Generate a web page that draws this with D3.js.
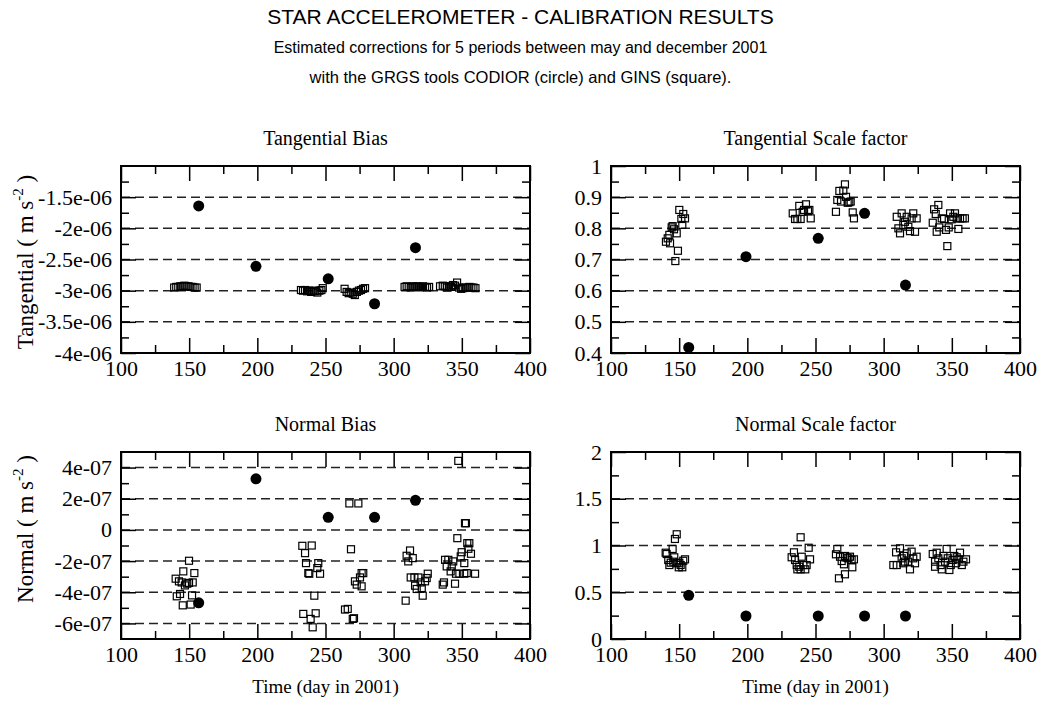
<!DOCTYPE html>
<html><head><meta charset="utf-8">
<script src="https://cdn.jsdelivr.net/npm/d3@7"></script>
<style>
body{margin:0;background:#fff}
svg{display:block}
.serif{font-family:"Liberation Serif","Times New Roman",serif}
.sans{font-family:"Liberation Sans",Arial,sans-serif}
</style></head><body>
<svg id="c" width="1041" height="719"></svg>
<script>
// ---- data ----
const circleDays = [157, 199, 252, 286, 316];

// Tangential bias (m s^-2)
const tbCircle = [-1.64e-6, -2.61e-6, -2.81e-6, -3.21e-6, -2.31e-6];
const tbSqDay = [139,140.5,142,143.5,145,146.5,148,149.5,151,152.5,154,155.5,
  232,233.5,235,236.5,238,239.5,241,242.5,244,245.5,247,248,
  264,265.5,267,268.5,270,271.5,273,274.5,276,277.5,279,
  308,309.5,311,312.5,314,315.5,317,318.5,320,321.5,323,324.5,326,
  334,336,337.5,339,340.5,342,343.5,345,346.5,348,349.5,351,352.5,354,355.5,357,358.5,360];
const tbSqVal = [-2.95e-6,-2.94e-6,-2.94e-6,-2.93e-6,-2.93e-6,-2.92e-6,-2.93e-6,-2.93e-6,-2.94e-6,-2.94e-6,-2.95e-6,-2.95e-6,
  -2.99e-6,-3.0e-6,-2.99e-6,-3.01e-6,-3.0e-6,-3.02e-6,-3.0e-6,-3.01e-6,-3.03e-6,-3.0e-6,-2.99e-6,-2.96e-6,
  -2.97e-6,-3.02e-6,-3.04e-6,-3.03e-6,-3.05e-6,-3.07e-6,-3.02e-6,-3.0e-6,-2.99e-6,-2.97e-6,-2.96e-6,
  -2.94e-6,-2.93e-6,-2.94e-6,-2.95e-6,-2.93e-6,-2.94e-6,-2.93e-6,-2.94e-6,-2.94e-6,-2.93e-6,-2.94e-6,-2.95e-6,-2.94e-6,
  -2.93e-6,-2.92e-6,-2.93e-6,-2.95e-6,-2.93e-6,-2.94e-6,-2.91e-6,-2.92e-6,-2.87e-6,-2.95e-6,-2.97e-6,-2.96e-6,-2.95e-6,-2.95e-6,-2.94e-6,-2.95e-6,-2.95e-6,-2.96e-6];

// Tangential scale factor
const tsCircle = [0.418, 0.709, 0.768, 0.848, 0.618];
const tsSqDay = [140.3,141.6,142.8,143.3,144.5,145.2,146.2,147.2,148.2,149.1,150.1,151.6,152.3,153,154.3,
  233.3,235,236.7,238.1,239.1,240.6,241.6,243,244.5,245.5,246.5,
  265,266,267.5,268.7,270.4,271.6,272.4,273.6,274.8,275.8,277.3,278.2,
  309.6,310.8,312,313.2,314.4,315.6,316.9,318.1,319.3,320.5,321.7,323,324.2,
  336,337,338.2,338.9,340.1,340.8,342.6,344.3,345.7,346.7,347.7,348.7,349.9,351.1,352.3,353.6,354.8,356,357.9,359.6];
const tsSqVal = [0.757,0.768,0.779,0.752,0.803,0.807,0.797,0.695,0.784,0.728,0.859,0.83,0.811,0.846,0.832,
  0.848,0.83,0.83,0.872,0.83,0.853,0.859,0.877,0.855,0.859,0.832,
  0.853,0.891,0.92,0.886,0.921,0.941,0.901,0.882,0.884,0.886,0.851,0.832,
  0.837,0.8,0.784,0.848,0.811,0.821,0.837,0.805,0.791,0.832,0.848,0.789,0.832,
  0.818,0.861,0.846,0.789,0.875,0.803,0.832,0.83,0.795,0.743,0.803,0.848,0.829,0.837,0.848,0.832,0.798,0.832,0.832,0.832];

// Normal bias (m s^-2)
const nbCircle = [-4.68e-7, 3.28e-7, 0.81e-7, 0.81e-7, 1.9e-7];
const nbSqDay = [149.9,145.7,153.8,140.1,142.5,144.5,146.9,148.6,152.6,143.3,140.9,152.1,145.3,151.1,149.9,
  233,239.9,235,235.7,237.4,238.1,244.7,244,246,241.8,233.7,242.8,239.1,240.6,
  267.5,274.1,268.7,276.5,277.7,275.3,271.6,272.9,276.5,264.3,266.3,270,270.9,
  312,309.5,310.7,314,312.5,315.2,318.1,319.8,315.7,316.9,320.6,321.3,323,324.2,325,308.8,
  347.4,352.3,353,346.7,354,355.5,354.8,349.9,356.7,349.2,337.7,340.1,343.7,351.8,338.9,342.6,341.8,345.7,348.2,351.8,353.6,359.7,336,336.9,345];
const nbSqVal = [-1.98e-7,-2.66e-7,-2.77e-7,-3.13e-7,-3.3e-7,-3.37e-7,-3.56e-7,-3.45e-7,-3.37e-7,-4.11e-7,-4.26e-7,-4.2e-7,-4.84e-7,-4.79e-7,-3.4e-7,
  -1.02e-7,-1.0e-7,-1.49e-7,-2.13e-7,-2.77e-7,-2.81e-7,-2.13e-7,-2.45e-7,-2.81e-7,-4.22e-7,-5.39e-7,-5.35e-7,-5.71e-7,-6.25e-7,
  1.7e-7,1.7e-7,-1.24e-7,-2.77e-7,-2.77e-7,-3.05e-7,-3.3e-7,-3.51e-7,-3.62e-7,-5.11e-7,-5.07e-7,-5.71e-7,-5.67e-7,
  -1.32e-7,-1.66e-7,-2.02e-7,-1.81e-7,-3.05e-7,-3.05e-7,-3.05e-7,-3.37e-7,-3.58e-7,-3.79e-7,-3.73e-7,-4.22e-7,-3.3e-7,-3.09e-7,-2.81e-7,-4.54e-7,
  4.43e-7,0.43e-7,0.43e-7,-0.53e-7,-0.85e-7,-0.85e-7,-1.21e-7,-1.43e-7,-1.53e-7,-1.7e-7,-1.92e-7,-1.92e-7,-2.02e-7,-2.13e-7,-2.34e-7,-2.34e-7,-2.66e-7,-2.81e-7,-2.81e-7,-2.81e-7,-2.77e-7,-2.81e-7,-3.51e-7,-3.37e-7,-3.45e-7];

// Normal scale factor
const nsCircle = [0.467, 0.246, 0.246, 0.246, 0.246];
const nsSqDay = [148.2,146.9,145.2,140.1,140.8,142,143.8,142.8,145.7,146.4,148.2,149.7,151.1,152.3,153,154.3,150.1,
  239.1,234.2,245,232.5,235,239.9,246,236.2,238.1,241.1,243.5,236.7,239.1,242.5,
  266,265,268,269.2,270.9,271.6,274.1,275.3,276.5,278.2,277,271.6,267.2,272.9,
  312,309.1,307.1,309.6,313.2,314.9,316.9,318.1,319.3,320.5,321.7,323,324.2,315.6,314.4,
  336,337.7,338.9,337.7,340.1,341.8,342.6,343.8,345,346.2,347,348.2,349.2,350.6,351.8,353.6,354.8,356,357.3,358.5,360.4,353.1];
const nsSqVal = [1.12,1.07,0.963,0.923,0.909,0.845,0.816,0.791,0.827,0.874,0.81,0.767,0.791,0.767,0.837,0.852,0.816,
  1.088,0.927,0.976,0.874,0.845,0.88,0.852,0.791,0.773,0.791,0.791,0.745,0.745,0.745,
  0.963,0.906,0.88,0.834,0.799,0.888,0.863,0.88,0.845,0.852,0.767,0.692,0.649,0.87,
  0.97,0.927,0.791,0.791,0.863,0.888,0.916,0.827,0.745,0.934,0.863,0.81,0.88,0.827,0.81,
  0.909,0.827,0.923,0.773,0.863,0.791,0.745,0.888,0.827,0.963,0.863,0.738,0.791,0.845,0.888,0.874,0.852,0.923,0.791,0.827,0.852,0.81];

// axes / ticks
const xDomain = [100, 400];
const xMajor = [100,150,200,250,300,350,400];
const xMinor = [125,175,225,275,325,375];

const titles = ["Tangential Bias","Tangential Scale factor","Normal Bias","Normal Scale factor"];

// ---- layout ----
const svg = d3.select("#c");
const colL = [121, 611], colR = [530, 1020];
const rowT = [166, 452], rowB = [353, 639];
const ylabCenter = [262, 529];

const loc = d3.formatLocale({decimal:".", thousands:",", grouping:[3], currency:["",""], minus:"-"});
function gfmt(v){
  if (Math.abs(v) < 1e-15) return "0";
  let s = loc.format("~e")(v);
  return s.replace(/e([+-])(\d)$/, "e$10$2");
}
const plain = loc.format("~g");

const panels = [
  {col:0,row:0,domain:[-4e-6,-1e-6],major:[-4e-6,-3.5e-6,-3e-6,-2.5e-6,-2e-6,-1.5e-6],grid:[-3.5e-6,-3e-6,-2.5e-6,-2e-6,-1.5e-6],minor:[-3.75e-6,-3.25e-6,-2.75e-6,-2.25e-6,-1.75e-6,-1.25e-6],fmt:gfmt,
   sqD:tbSqDay,sqV:tbSqVal,cir:tbCircle,ylab:"Tangential"},
  {col:1,row:0,domain:[0.4,1],major:[0.4,0.5,0.6,0.7,0.8,0.9,1],grid:[0.5,0.6,0.7,0.8,0.9],minor:[0.45,0.55,0.65,0.75,0.85,0.95],fmt:plain,
   sqD:tsSqDay,sqV:tsSqVal,cir:tsCircle},
  {col:0,row:1,domain:[-7e-7,5e-7],major:[-6e-7,-4e-7,-2e-7,0,2e-7,4e-7],grid:[-6e-7,-4e-7,-2e-7,0,2e-7,4e-7],minor:[-5e-7,-3e-7,-1e-7,1e-7,3e-7],fmt:gfmt,
   sqD:nbSqDay,sqV:nbSqVal,cir:nbCircle,ylab:"Normal"},
  {col:1,row:1,domain:[0,2],major:[0,0.5,1,1.5,2],grid:[0.5,1,1.5],minor:[0.25,0.75,1.25,1.75],fmt:plain,
   sqD:nsSqDay,sqV:nsSqVal,cir:nsCircle}
];

panels.forEach((p,i)=>{
  const L=colL[p.col], R=colR[p.col], T=rowT[p.row], B=rowB[p.row];
  const x = d3.scaleLinear().domain(xDomain).range([L,R]);
  const y = d3.scaleLinear().domain(p.domain).range([B,T]);
  const g = svg.append("g");

  // gridlines
  g.selectAll("line.grid").data(p.grid).join("line")
    .attr("x1",L).attr("x2",R).attr("y1",d=>y(d)).attr("y2",d=>y(d))
    .attr("stroke","#222").attr("stroke-width",1.5).attr("stroke-dasharray","9,5");

  // axes
  const styleAx = sel => { sel.select(".domain").remove(); sel.selectAll("line").attr("stroke","#000").attr("stroke-width",1.5); sel.selectAll("text").attr("class","serif").attr("font-size",22).attr("fill","#000").attr("font-family",null); };
  g.append("g").attr("transform",`translate(0,${B})`)
    .call(d3.axisBottom(x).tickValues(xMajor).tickSize(-15).tickPadding(7).tickFormat(d3.format("d"))).call(styleAx);
  g.append("g").attr("transform",`translate(0,${B})`)
    .call(d3.axisBottom(x).tickValues(xMinor).tickSize(-8).tickFormat("")).call(styleAx);
  g.append("g").attr("transform",`translate(0,${T})`)
    .call(d3.axisTop(x).tickValues(xMajor).tickSize(-15).tickFormat("")).call(styleAx);
  g.append("g").attr("transform",`translate(0,${T})`)
    .call(d3.axisTop(x).tickValues(xMinor).tickSize(-8).tickFormat("")).call(styleAx);
  g.append("g").attr("transform",`translate(${L},0)`)
    .call(d3.axisLeft(y).tickValues(p.major).tickSize(-15).tickPadding(9).tickFormat(p.fmt)).call(styleAx);
  g.append("g").attr("transform",`translate(${L},0)`)
    .call(d3.axisLeft(y).tickValues(p.minor).tickSize(-8).tickFormat("")).call(styleAx);
  g.append("g").attr("transform",`translate(${R},0)`)
    .call(d3.axisRight(y).tickValues(p.major).tickSize(-15).tickFormat("")).call(styleAx);
  g.append("g").attr("transform",`translate(${R},0)`)
    .call(d3.axisRight(y).tickValues(p.minor).tickSize(-8).tickFormat("")).call(styleAx);

  // frame
  g.append("rect").attr("x",L).attr("y",T).attr("width",R-L).attr("height",B-T)
    .attr("fill","none").attr("stroke","#000").attr("stroke-width",2);

  // squares
  const s = 7;
  g.selectAll("rect.sq").data(p.sqD.map((d,k)=>[d,p.sqV[k]])).join("rect")
    .attr("x",d=>x(d[0])-s/2).attr("y",d=>y(d[1])-s/2).attr("width",s).attr("height",s)
    .attr("fill","none").attr("stroke","#000").attr("stroke-width",1.2);
  // circles
  g.selectAll("circle").data(circleDays.map((d,k)=>[d,p.cir[k]])).join("circle")
    .attr("cx",d=>x(d[0])).attr("cy",d=>y(d[1])).attr("r",5.5).attr("fill","#000");

  // title
  g.append("text").attr("class","serif").attr("x",(L+R)/2).attr("y",T-21)
    .attr("text-anchor","middle").attr("font-size",20).text(titles[i]);
  // x label
  if (p.row===1) g.append("text").attr("class","serif").attr("x",(L+R)/2).attr("y",693)
      .attr("text-anchor","middle").attr("font-size",19).text("Time (day in 2001)");
  // y label
  if (p.ylab){
    const t = g.append("text").attr("class","serif").attr("font-size",23).attr("text-anchor","middle")
      .attr("transform",`translate(33,${ylabCenter[p.row]}) rotate(-90)`);
    t.append("tspan").text(p.ylab+" ( m s");
    t.append("tspan").attr("font-size",15).attr("dy",-10).text("-2");
    t.append("tspan").attr("dy",10).text(" )");
  }
});

// main titles
svg.append("text").attr("class","sans").attr("x",520.5).attr("y",24).attr("text-anchor","middle")
  .attr("font-size",21).text("STAR ACCELEROMETER - CALIBRATION RESULTS");
svg.append("text").attr("class","sans").attr("x",520.5).attr("y",53).attr("text-anchor","middle")
  .attr("font-size",16).text("Estimated corrections for 5 periods between may and december 2001");
svg.append("text").attr("class","sans").attr("x",520.5).attr("y",83).attr("text-anchor","middle")
  .attr("font-size",16.5).text("with the GRGS tools CODIOR (circle) and GINS (square).");
</script>
</body></html>
